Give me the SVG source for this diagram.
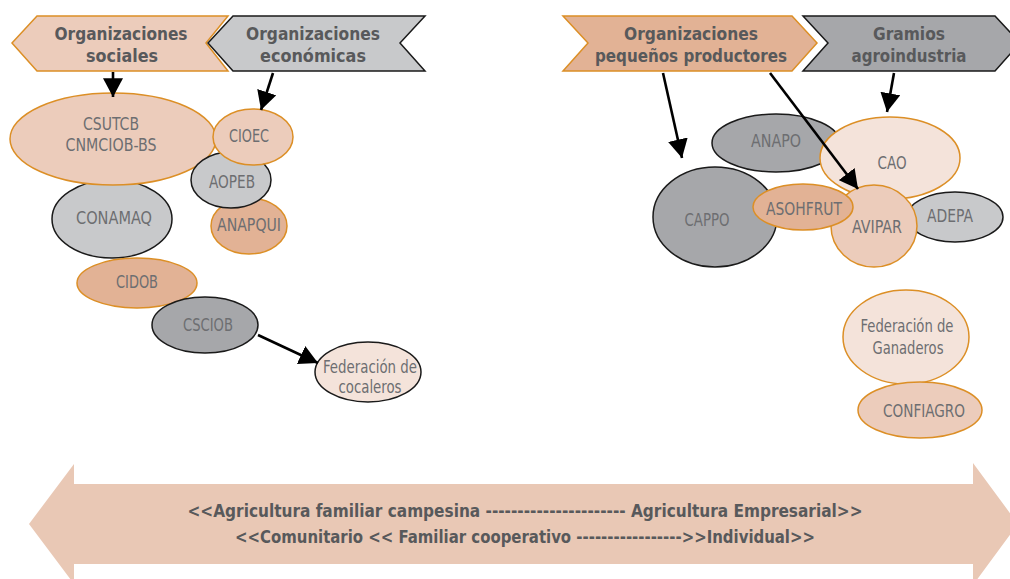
<svg xmlns="http://www.w3.org/2000/svg" width="1010" height="579" viewBox="0 0 1010 579">
<defs>
<style>
.hdr{font-family:"Liberation Sans Narrow","DejaVu Sans Condensed","Liberation Sans",sans-serif;font-weight:bold;font-size:18px;fill:#58595b;text-anchor:middle}
.lbl{font-family:"Liberation Sans Narrow","DejaVu Sans Condensed","Liberation Sans",sans-serif;font-size:18px;fill:#6d6e71;text-anchor:middle}
.bot{font-family:"Liberation Sans Narrow","DejaVu Sans Condensed","Liberation Sans",sans-serif;font-weight:bold;font-size:17px;fill:#58595b;text-anchor:middle}
.po{stroke:#dc8f26;stroke-width:1.5}
.pk{stroke:#1a1a1a;stroke-width:1.5}
.f1{fill:#ecccbb}
.f2{fill:#e2b295}
.f3{fill:#f4e3da}
.g1{fill:#c8c9cb}
.g2{fill:#a6a7aa}
.conn{stroke:#000;stroke-width:2.6;fill:none;marker-end:url(#ah)}
</style>
<marker id="ah" markerUnits="userSpaceOnUse" markerWidth="20" markerHeight="20" refX="15" refY="8" orient="auto" viewBox="0 0 16 16">
<path d="M0,0 L15,8 L0,16 Z" fill="#000"/>
</marker>
</defs>
<rect width="1010" height="579" fill="#fff"/>

<g id="bottom-arrow">
<polygon points="29,524 74,464 74,484 973,484 973,463 1018,524 973,585 973,564 74,564 74,584" fill="#e9c8b5"/>
<text class="bot" x="525" y="517" textLength="675" lengthAdjust="spacingAndGlyphs">&lt;&lt;Agricultura familiar campesina ---------------------- Agricultura Empresarial&gt;&gt;</text>
<text class="bot" x="525" y="543" textLength="580" lengthAdjust="spacingAndGlyphs">&lt;&lt;Comunitario &lt;&lt; Familiar cooperativo -----------------&gt;&gt;Individual&gt;&gt;</text>
</g>

<g id="hdr-sociales">
<polygon class="po f1" points="37,16 228,16 206,43 228,71 37,71 12,43"/>
<text class="hdr" x="121" y="40" textLength="133" lengthAdjust="spacingAndGlyphs">Organizaciones</text>
<text class="hdr" x="122" y="62" textLength="72" lengthAdjust="spacingAndGlyphs">sociales</text>
</g>
<g id="hdr-economicas">
<polygon class="pk g1" points="233,16 425,16 400,43 425,71 233,71 208,43"/>
<text class="hdr" x="313" y="40" textLength="134" lengthAdjust="spacingAndGlyphs">Organizaciones</text>
<text class="hdr" x="313" y="62" textLength="106" lengthAdjust="spacingAndGlyphs">económicas</text>
</g>
<g id="hdr-pequenos">
<polygon class="po f2" points="563,16 792,16 817,43 792,71 563,71 588,43"/>
<text class="hdr" x="691" y="40" textLength="134" lengthAdjust="spacingAndGlyphs">Organizaciones</text>
<text class="hdr" x="691" y="62" textLength="192" lengthAdjust="spacingAndGlyphs">pequeños productores</text>
</g>
<g id="hdr-gramios">
<polygon class="pk g2" points="803,16 995,16 1020,43 995,71 803,71 828,43"/>
<text class="hdr" x="909" y="40" textLength="72" lengthAdjust="spacingAndGlyphs">Gramios</text>
<text class="hdr" x="909" y="62" textLength="115" lengthAdjust="spacingAndGlyphs">agroindustria</text>
</g>

<g id="n-conamaq">
<ellipse class="pk g1" cx="112" cy="219" rx="60" ry="39"/>
<text class="lbl" x="114" y="224" textLength="76" lengthAdjust="spacingAndGlyphs">CONAMAQ</text>
</g>
<g id="n-csutcb">
<ellipse class="po f1" cx="113" cy="139" rx="103" ry="46"/>
<text class="lbl" x="111" y="130" textLength="56" lengthAdjust="spacingAndGlyphs">CSUTCB</text>
<text class="lbl" x="111" y="151" textLength="91" lengthAdjust="spacingAndGlyphs">CNMCIOB-BS</text>
</g>
<g id="n-anapqui">
<ellipse class="po f2" cx="249" cy="226" rx="38" ry="28"/>
<text class="lbl" x="249" y="231" textLength="64" lengthAdjust="spacingAndGlyphs">ANAPQUI</text>
</g>
<g id="n-aopeb">
<ellipse class="pk g1" cx="231" cy="180" rx="40" ry="28"/>
<text class="lbl" x="232" y="188" textLength="46" lengthAdjust="spacingAndGlyphs">AOPEB</text>
</g>
<g id="n-cioec">
<ellipse class="po f1" cx="253" cy="137" rx="40" ry="28"/>
<text class="lbl" x="249" y="142" textLength="40" lengthAdjust="spacingAndGlyphs">CIOEC</text>
</g>
<g id="n-cidob">
<ellipse class="po f2" cx="137" cy="283" rx="60" ry="25"/>
<text class="lbl" x="137" y="288" textLength="42" lengthAdjust="spacingAndGlyphs">CIDOB</text>
</g>
<g id="n-csciob">
<ellipse class="pk g2" cx="205" cy="325" rx="53" ry="28"/>
<text class="lbl" x="208" y="331" textLength="50" lengthAdjust="spacingAndGlyphs">CSCIOB</text>
</g>
<g id="n-cocaleros">
<ellipse class="pk f3" cx="368" cy="372" rx="53" ry="30"/>
<text class="lbl" x="370" y="373" textLength="94" lengthAdjust="spacingAndGlyphs">Federación de</text>
<text class="lbl" x="370" y="393" textLength="63" lengthAdjust="spacingAndGlyphs">cocaleros</text>
</g>

<g id="n-anapo">
<ellipse class="pk g2" cx="776" cy="143" rx="64" ry="29"/>
<text class="lbl" x="776" y="147" textLength="50" lengthAdjust="spacingAndGlyphs">ANAPO</text>
</g>
<g id="n-cao">
<ellipse class="po f3" cx="890" cy="158" rx="70" ry="41"/>
<text class="lbl" x="892" y="169" textLength="29" lengthAdjust="spacingAndGlyphs">CAO</text>
</g>
<g id="n-cappo">
<ellipse class="pk g2" cx="715" cy="217" rx="62" ry="50"/>
<text class="lbl" x="707" y="226" textLength="45" lengthAdjust="spacingAndGlyphs">CAPPO</text>
</g>
<g id="n-adepa">
<ellipse class="pk g1" cx="955" cy="217" rx="48" ry="25"/>
<text class="lbl" x="950" y="222" textLength="46" lengthAdjust="spacingAndGlyphs">ADEPA</text>
</g>
<g id="n-avipar">
<ellipse class="po f1" cx="874" cy="226" rx="43" ry="41"/>
<text class="lbl" x="877" y="233" textLength="50" lengthAdjust="spacingAndGlyphs">AVIPAR</text>
</g>
<g id="n-asohfrut">
<ellipse class="po f2" cx="803" cy="207" rx="50" ry="23"/>
<text class="lbl" x="804" y="215" textLength="76" lengthAdjust="spacingAndGlyphs">ASOHFRUT</text>
</g>
<g id="n-ganaderos">
<ellipse class="po f3" cx="906" cy="337" rx="63" ry="47"/>
<text class="lbl" x="907" y="332" textLength="93" lengthAdjust="spacingAndGlyphs">Federación de</text>
<text class="lbl" x="908" y="354" textLength="71" lengthAdjust="spacingAndGlyphs">Ganaderos</text>
</g>
<g id="n-confiagro">
<ellipse class="po f1" cx="920" cy="410" rx="62" ry="28"/>
<text class="lbl" x="924" y="417" textLength="82" lengthAdjust="spacingAndGlyphs">CONFIAGRO</text>
</g>

<g id="connectors">
<line class="conn" x1="113" y1="72" x2="113" y2="97"/>
<line class="conn" x1="273" y1="73" x2="261" y2="110"/>
<line class="conn" x1="663" y1="73" x2="682" y2="158"/>
<line class="conn" x1="770" y1="73" x2="858" y2="189"/>
<line class="conn" x1="894" y1="73" x2="887" y2="112"/>
<line class="conn" x1="258" y1="335" x2="318" y2="363"/>
</g>
</svg>
